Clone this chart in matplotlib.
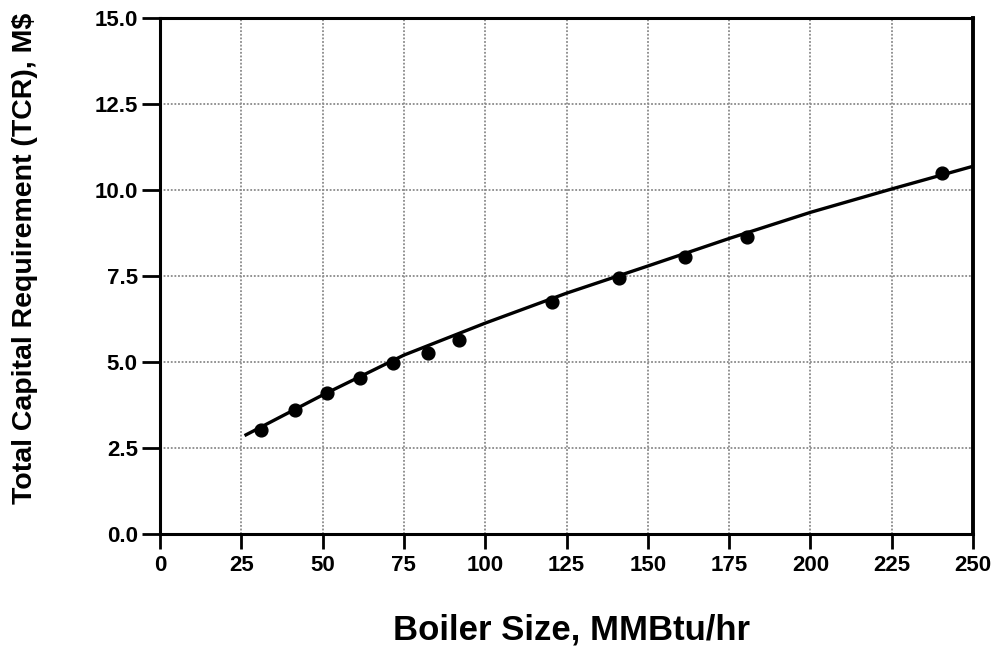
import numpy as np
import matplotlib.pyplot as plt

# Measured TCR for each boiler size
boiler_size = [31, 41.5, 51.5, 61.5, 71.5, 82.5, 92, 120.5, 141, 161.5, 180.5, 240.5]
tcr = [3.03, 3.61, 4.11, 4.54, 4.96, 5.27, 5.65, 6.74, 7.43, 8.05, 8.62, 10.49]

# Fitted cost curve
fit_size = [26, 50, 75, 100, 125, 150, 175, 200, 225, 250]
fit_tcr = [2.86, 4.04, 5.2, 6.13, 7.0, 7.79, 8.59, 9.35, 10.03, 10.69]

xticks = np.arange(0, 251, 25)
yticks = np.arange(0, 15.1, 2.5)

plt.rcParams['font.family'] = ['Liberation Sans', 'DejaVu Sans']
plt.rcParams['font.weight'] = 'bold'

fig = plt.figure(figsize=(9.98, 6.52), dpi=100)
ax = fig.add_axes([0.1603, 0.181, 0.8147, 0.7914])

ax.plot(fit_size, fit_tcr, color='black', lw=2.4, solid_capstyle='butt',
        solid_joinstyle='round', zorder=3)
ax.plot(boiler_size, tcr, 'o', color='black', markersize=9.2, zorder=4)

ax.set_xlim(0, 250)
ax.set_ylim(0, 15)
ax.set_xticks(xticks)
ax.set_yticks(yticks)
ax.set_xticklabels([str(int(v)) for v in xticks])
ax.set_yticklabels([f'{v:.1f}' for v in yticks])

ax.grid(True, color='#8a8a8a', linestyle=(0, (1, 1)), linewidth=1.3)
ax.set_axisbelow(True)

for side in ['left', 'bottom', 'top']:
    ax.spines[side].set_linewidth(2.2)
ax.spines['right'].set_linewidth(2.8)

ax.tick_params(axis='both', direction='out', width=2, labelsize=16,
               top=False, right=False)
ax.tick_params(axis='y', length=13, pad=3)
ax.tick_params(axis='x', length=11, pad=4)
for lab in ax.get_xticklabels() + ax.get_yticklabels():
    lab.set_fontweight('bold')

ax.set_xlabel('Boiler Size, MMBtu/hr', fontsize=25, fontweight='bold')
ax.set_ylabel('Total Capital Requirement (TCR), M$', fontsize=20.5, fontweight='bold')
ax.xaxis.set_label_coords(0.506, -0.155)
ax.yaxis.set_label_coords(-0.150, 0.534)

plt.savefig('out.png', dpi=100)
